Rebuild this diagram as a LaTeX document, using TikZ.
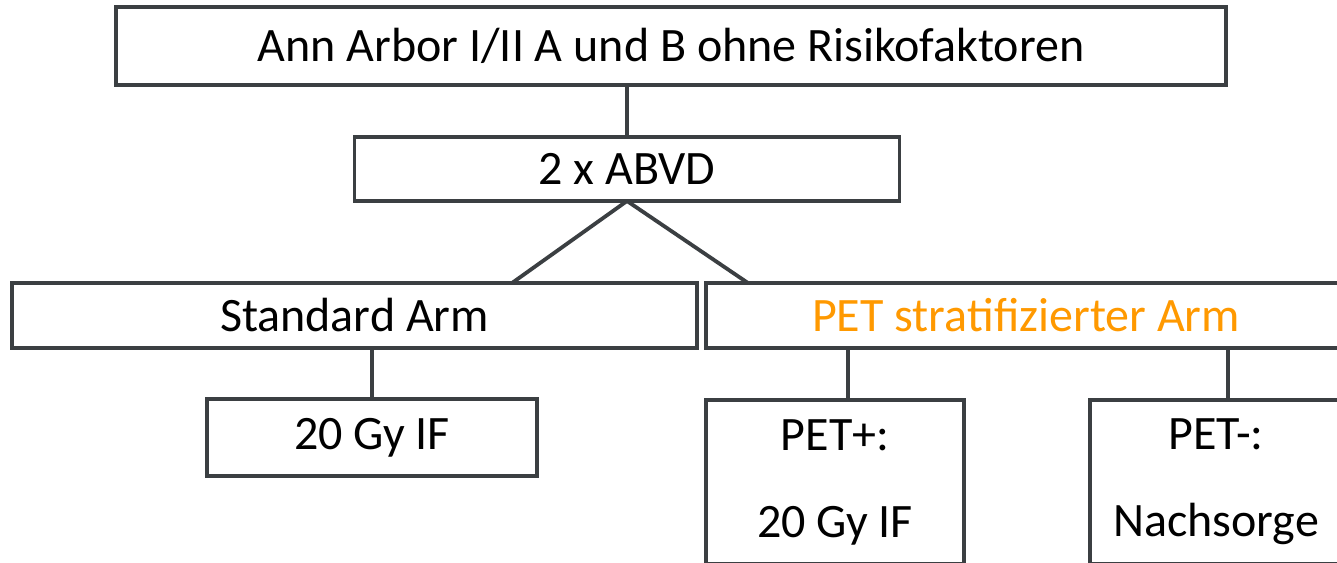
\documentclass[tikz,border=0pt]{standalone}
\usepackage{fontspec}
\setmainfont{Carlito}
\usetikzlibrary{calc}
\definecolor{boxline}{RGB}{59,63,66}
\definecolor{petorange}{RGB}{255,153,0}
\begin{document}
\begin{tikzpicture}[x=1pt,y=-1pt,
  box/.style={draw=boxline,line width=3.8pt,fill=white,inner sep=0pt,outer sep=0pt,
    font=\fontsize{48}{87}\selectfont,align=center,text=black},
  conn/.style={draw=boxline,line width=3.8pt}]
\useasboundingbox (0,0) rectangle (1337,562);
\clip (0,0) rectangle (1337,562);
\node[box,minimum width=1110pt,minimum height=78pt] (top) at (671,46) {Ann Arbor I/II A und B ohne Risikofaktoren};
\node[box,minimum width=545pt,minimum height=64pt] (abvd) at (627,169) {2 x ABVD};
\node[box,minimum width=685pt,minimum height=65pt] (std) at (354.5,315.5) {Standard Arm};
\node[box,minimum width=640pt,minimum height=65pt,text=petorange] (pet) at (1026,315.5) {PET stratifizierter Arm};
\node[box,minimum width=330pt,minimum height=77pt] (g20) at (372,437.5) {20 Gy IF};
\node[box,minimum width=258pt,minimum height=164pt] (petp) at (835,482) {PET+:\\20 Gy IF};
\node[box,minimum width=252pt,minimum height=164pt] (petm) at (1216,482) {PET-:\\Nachsorge};
\draw[conn] (abvd.north) -- (abvd.north |- top.south);
\draw[conn] (abvd.south) -- ($(std.north)+(157.5,0)$);
\draw[conn] (abvd.south) -- ($(pet.north west)+(42,0)$);
\draw[conn] (g20.north) -- (g20.north |- std.south);
\draw[conn] ($(petp.north)+(13,0)$) coordinate (pp) -- (pp |- pet.south);
\draw[conn] ($(petm.north)+(12,0)$) coordinate (pm) -- (pm |- pet.south);
\end{tikzpicture}
\end{document}
